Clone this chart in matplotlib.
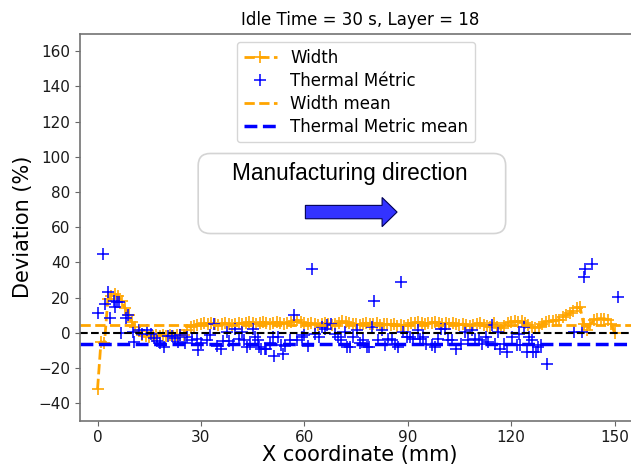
import matplotlib
matplotlib.use("Agg")
import matplotlib.pyplot as plt
import matplotlib.patches as mpatches

# ---------------- data ----------------
width_x = list(range(0, 151))
width_y = [
    -32, -5, -6, 19, 21, 22, 21, 18, 14, 10,
    6, 3.5, 1, -1, -2, -2.5, -2, -1.5, -2, -1.5,
    -2, -1.5, -2, -1, -1.5, -1, 1.5, 3.5, 4, 4.5,
    5, 5.5, 5, 5.5, 5, 4.5, 5, 5.5, 5, 4.5,
    5, 5.5, 5, 5.5, 6, 5.5, 5, 5.5, 6, 5.5,
    5, 5.5, 6, 5.5, 5, 5.5, 6, 6.5, 7, 6,
    5.5, 5, 5.5, 5, 4.5, 5, 5.5, 5, 4.5, 5,
    5.5, 6.5, 6, 5.5, 5, 5, 4.5, 5, 5.5, 5,
    5, 5.5, 4.5, 5, 5, 4.5, 5, 4, 4.5, 4,
    4.5, 5.5, 5.5, 6, 5.5, 5, 5.5, 5.5, 6, 5.5,
    5, 5.5, 5, 5.5, 5, 4.5, 5, 4.5, 4, 4.5,
    5, 5.5, 4.5, 4, 3.5, 5.5, 3, 2.5, 4, 5.5,
    6, 6.5, 6, 6.5, 5.5, 4.5, 3.5, 2.5, 3, 5,
    6, 6.5, 6.5, 7, 7.5, 9, 10, 11, 12.5, 14,
    14.5, 5, 1.5, 5, 7, 8, 8, 8, 7.5, 5, 0,
]

thermal_x = [
    0, 1.5, 2.2, 2.9, 3.7, 4.7, 5.0, 5.6, 6.2, 6.8,
    8.3, 8.8, 10.3, 10.7, 12.0, 13.0, 14.4, 15.4, 16.3, 17.3,
    18.0, 19.4, 20.4, 21.7, 22.6, 23.3, 24.0, 25.3, 25.9, 27.5,
    28.8, 29.2, 30.1, 31.9, 32.7, 33.8, 34.8, 35.8, 36.3, 37.7,
    38.2, 39.4, 40.0, 41.1, 42.0, 42.6, 43.4, 44.2, 45.2, 45.7,
    46.5, 46.9, 47.5, 48.6, 48.9, 50.0, 50.8, 51.3, 52.3, 53.3,
    53.7, 54.4, 55.7, 56.9, 58.0, 59.3, 60.0, 61.2, 62.3, 63.0,
    64.3, 65.0, 66.0, 66.7, 67.7, 68.8, 69.8, 70.6, 71.7, 72.3,
    73.2, 74.1, 75.4, 76.2, 77.0, 78.1, 78.7, 79.5, 80.2, 81.4,
    82.4, 83.4, 84.3, 85.3, 86.3, 87.3, 88.1, 88.7, 89.7, 90.7,
    91.6, 92.9, 93.5, 94.5, 95.4, 96.9, 97.8, 98.8, 99.7, 100.9,
    101.7, 102.9, 104.1, 105.3, 106.7, 107.6, 108.6, 109.6, 110.6, 111.5,
    112.7, 113.4, 114.5, 115.4, 116.2, 116.9, 117.9, 118.8, 120.3, 121.7,
    122.2, 122.7, 123.7, 124.7, 125.2, 126.0, 126.2, 127.1, 127.9, 128.6,
    130.4, 138.1, 140.5, 141.0, 141.5, 143.4, 151.0,
]
thermal_y = [
    11, 44.5, 16.5, 23, 8.5, 18, 14.6, 17.5, 17.5, -0.2,
    8.5, 10, 0.4, -5, 1.3, -0.6, 1.7, -0.6, -3.0, -4.7,
    -5.6, -8, -2, -2, -2.8, -5.5, -1.5, -6, -2.4, -4.0,
    -3.4, -10, -6, -4.4, -1.5, 4.7, -7.5, -9.2, -4.7, 0.4,
    -4.7, -7.2, 2.3, -3.4, 0.4, -4.4, -8, -6.5, 2.3, -2.5,
    -4.4, -8.2, -9.2, -9, -9.2, -6.0, -2.5, -13, -2.5, -7.2,
    -12, -7.3, -4.4, 10.2, -4.4, -2.5, -1.5, -7.4, 36.4, -0.6,
    -2.5, 3.2, 2.3, 4.2, 4.7, -0.6, -2.5, -4.4, 0.4, -8.2,
    -8, -2.5, 1.3, -6.0, -4.4, -8.2, -8, 3.2, 18, -4.4,
    1.3, -7.2, -3.4, -4.4, -6.2, -8, 28.8, 0.4, -2.5, -2.5,
    -3.4, 1.3, -3.4, -2.5, -6.2, -7.2, -8, -3.4, 2.3, 2.3,
    -4.4, -4.4, -9.2, -6.5, 0.4, -4.4, 1.3, -3.4, -4.4, -6.2,
    -2.5, -5.2, 4.2, -6.2, 0.4, -9.2, -6.2, -11, -2.5, -7.2,
    -0.6, -7.2, 3.2, -11, -2.5, -4.4, -11, -11, -8, -7.2,
    -18, 0.4, 0.4, 31.6, 36.4, 38.8, 20.5,
]

width_mean = 4.2
thermal_mean = -6.2

x_ticks = [0, 30, 60, 90, 120, 150]
y_ticks = [-40, -20, 0, 20, 40, 60, 80, 100, 120, 140, 160]

title = "Idle Time = 30 s, Layer = 18"
xlabel = "X coordinate (mm)"
ylabel = "Deviation (%)"
annot_text = "Manufacturing direction"

# ---------------- figure ----------------
W, H = 631, 467
PX = 3.447          # pixels per mm on the x axis
RIGHT = 640.0       # axes right edge in pixels (just beyond the figure edge)
fig = plt.figure(figsize=(W / 100, H / 100), dpi=100)
ax = fig.add_axes([80.3 / W, (H - 420.7) / H, (RIGHT - 80.3) / W, (420.7 - 33.7) / H])

ax.plot(width_x, width_y, color="orange", linestyle="--", linewidth=2,
        marker="+", markersize=8, markeredgewidth=1.2, label="Width")
ax.plot(thermal_x, thermal_y, color="blue", linestyle="none",
        marker="+", markersize=8, markeredgewidth=1.1, label="Thermal Métric")
ax.axhline(0, color="black", linestyle="--", linewidth=1.5)
ax.axhline(width_mean, color="orange", linestyle="--", linewidth=2, label="Width mean")
ax.axhline(thermal_mean, color="blue", linestyle="--", linewidth=2.5, label="Thermal Metric mean")

x_left = -5
x_right = x_left + (RIGHT - 80.3) / PX
ax.set_xlim(x_left, x_right)
ax.set_ylim(-50, 170)
ax.set_xticks(x_ticks)
ax.set_yticks(y_ticks)
ax.tick_params(labelsize=11, color="0.4", labelcolor="0.1")
for s in ax.spines.values():
    s.set_color("0.45")
    s.set_linewidth(1.2)
ax.spines["right"].set_visible(False)

ax.set_title(title, fontsize=12, pad=6)
ax.set_xlabel(xlabel, fontsize=15, labelpad=0)
ax.set_ylabel(ylabel, fontsize=15, labelpad=4)

leg_x = (356.0 - 80.3) / (RIGHT - 80.3)
ax.legend(loc="upper center", bbox_to_anchor=(leg_x, 1.0),
          fontsize=12, labelspacing=0.3, numpoints=1)

# annotation box with arrow
sy = 1.76    # px per y-unit
box = mpatches.FancyBboxPatch((29.2, 56.4), 89.2, 45.5,
                              boxstyle="round,pad=0,rounding_size=3.5",
                              mutation_aspect=PX / sy,
                              facecolor="white", edgecolor="#d4d4d4", linewidth=1.2,
                              zorder=1)
ax.add_patch(box)
ax.text(73.3, 90.5, annot_text, fontsize=16.3, family="Liberation Sans",
        ha="center", va="center", color="black", zorder=2)
arrow = mpatches.FancyArrow(60.3, 68.6, 26.6, 0, width=7.6, head_width=16.6,
                            head_length=4.35, length_includes_head=True,
                            facecolor="#3333ff", edgecolor="#000055", linewidth=0.8,
                            zorder=2)
ax.add_patch(arrow)

fig.savefig("out.png", dpi=100)
